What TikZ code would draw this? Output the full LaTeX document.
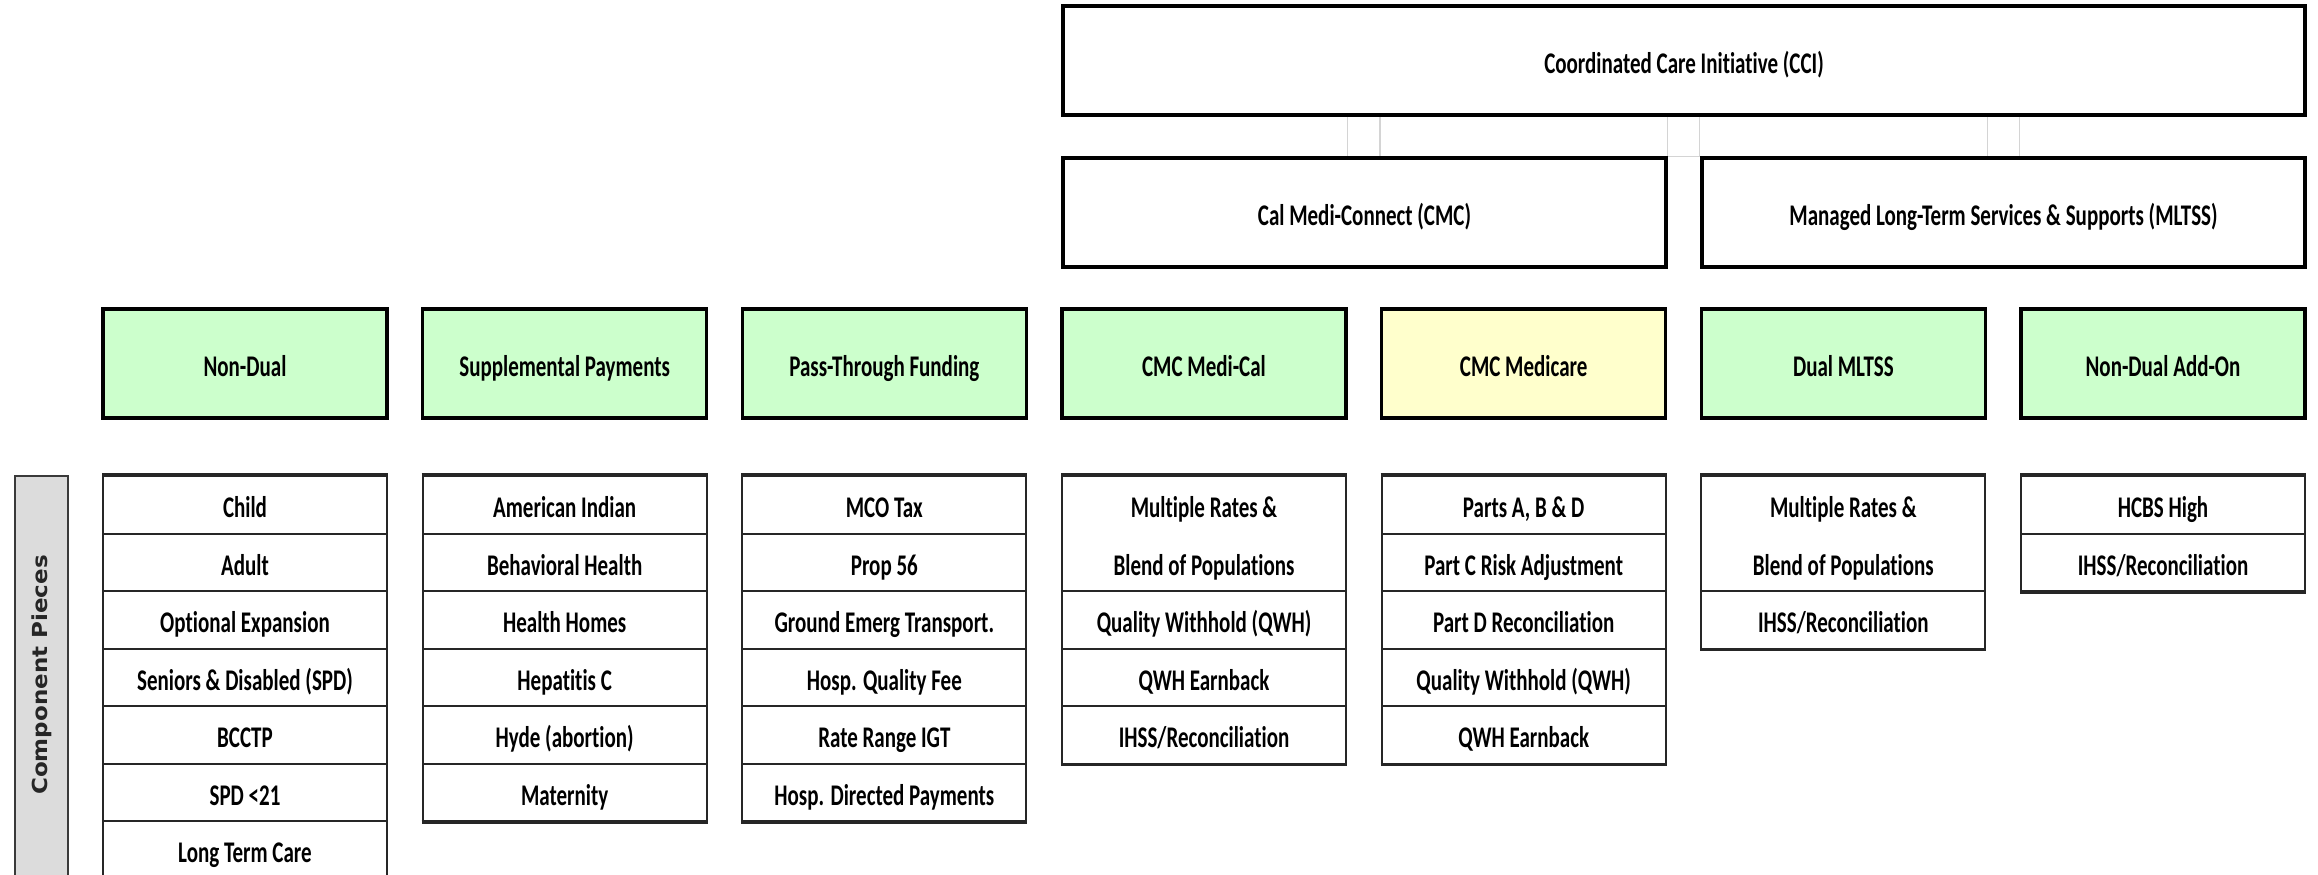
\documentclass[tikz,border=0pt]{standalone}
\usepackage{fontspec}
\newfontfamily\calfont[FakeStretch=0.7, Ligatures={NoCommon}]{Carlito}
\newfontfamily\dvfont{DejaVu Sans}
\usetikzlibrary{calc}
\definecolor{hdrgreen}{HTML}{CCFFCC}
\definecolor{hdryellow}{HTML}{FFFFCC}
\definecolor{gridgray}{HTML}{D4D4D4}
\definecolor{sidegray}{HTML}{DCDCDC}
\definecolor{sideline}{HTML}{3A3A3A}
\begin{document}
\begin{tikzpicture}[x=1pt,y=-1pt,
  lbl/.style={font=\calfont\bfseries\fontsize{30}{36}\selectfont, text height=26pt, text depth=0pt, inner sep=0pt},
  bigbox/.style={lbl, draw=black, line width=3.5pt, fill=white},
  hdr/.style={bigbox, fill=hdrgreen, minimum width=284pt, minimum height=109pt},
  cellbox/.style={lbl, draw=black!85, line width=2pt, fill=white, minimum width=284pt, minimum height=57.5pt},
  coledge/.style={draw=black!85, line width=3.2pt},
  gridln/.style={draw=gridgray, line width=1.2pt},
  sidebar/.style={draw=sideline, line width=1.5pt, fill=sidegray, minimum width=53pt, minimum height=424pt, inner sep=0pt},
  sidetext/.style={rotate=90, inner sep=0pt, font=\dvfont\bfseries\fontsize{23}{27}\selectfont, text=black!85},
]
\useasboundingbox (0,0) rectangle (2318,875);
\begin{scope}
\clip (0,0) rectangle (2318,875);

% header row
\node[hdr] (h1) at (245,363.5) {Non-Dual};
\node[hdr] (h2) at (564.67,363.5) {Supplemental Payments};
\node[hdr] (h3) at (884.33,363.5) {Pass-Through Funding};
\node[hdr] (h4) at (1204,363.5) {CMC Medi-Cal};
\node[hdr, fill=hdryellow] (h5) at (1523.67,363.5) {CMC Medicare};
\node[hdr] (h6) at (1843.33,363.5) {Dual MLTSS};
\node[hdr] (h7) at (2163,363.5) {Non-Dual Add-On};

% top boxes
\node[bigbox, minimum width=1242pt, minimum height=109pt] (cci) at (1684,60.5) {Coordinated Care Initiative (CCI)};
\node[bigbox, minimum width=603pt, minimum height=109pt] (cmc) at (1364.5,212.5) {Cal Medi-Connect (CMC)};
\node[bigbox, minimum width=603pt, minimum height=109pt] (mltss) at (2003.5,212.5) {Managed Long-Term Services \& Supports (MLTSS)};

% light grid lines in the gaps
\draw[gridln] (h4.east |- cci.south) -- (h4.east |- cmc.north);
\draw[gridln] (h5.west |- cci.south) -- (h5.west |- cmc.north);
\draw[gridln] (h5.east |- cci.south) -- (h5.east |- cmc.north);
\draw[gridln] (h6.west |- cci.south) -- (h6.west |- cmc.north);
\draw[gridln] (h6.east |- cci.south) -- (h6.east |- cmc.north);
\draw[gridln] (h7.west |- cci.south) -- (h7.west |- cmc.north);
\draw[gridln] (cmc.north east) -- (mltss.north west);

% side bar
\node[sidebar] (side) at (41.5,688) {};
\node[sidetext] (sidelbl) at (41.5,675) {\scalebox{1}[0.9]{Component Pieces}};

% column 1
\foreach \t [count=\j from 0] in {Child, Adult, Optional Expansion, Seniors \& Disabled (SPD), BCCTP, SPD <21, Long Term Care}
  \node[cellbox] (nd\j) at (245,{504.75+\j*57.5}) {\t};
% column 2
\foreach \t [count=\j from 0] in {American Indian, Behavioral Health, Health Homes, Hepatitis C, Hyde (abortion), Maternity}
  \node[cellbox] (sp\j) at (564.67,{504.75+\j*57.5}) {\t};
% column 3
\foreach \t [count=\j from 0] in {MCO Tax, Prop 56, Ground Emerg Transport., Hosp. Quality Fee, Rate Range IGT, Hosp. Directed Payments}
  \node[cellbox] (pt\j) at (884.33,{504.75+\j*57.5}) {\t};
% column 4
\node[cellbox, minimum height=115pt] (mc0) at (1204,533.5) {};
\node[lbl] (mc0a) at (1204,504.75) {Multiple Rates \&};
\node[lbl] (mc0b) at (1204,562.25) {Blend of Populations};
\foreach \t [count=\j from 2] in {Quality Withhold (QWH), QWH Earnback, IHSS/Reconciliation}
  \node[cellbox] (mc\j) at (1204,{504.75+\j*57.5}) {\t};
% column 5
\foreach \t [count=\j from 0] in {{Parts A, B \& D}, Part C Risk Adjustment, Part D Reconciliation, Quality Withhold (QWH), QWH Earnback}
  \node[cellbox] (mr\j) at (1523.67,{504.75+\j*57.5}) {\t};
% column 6
\node[cellbox, minimum height=115pt] (dm0) at (1843.33,533.5) {};
\node[lbl] (dm0a) at (1843.33,504.75) {Multiple Rates \&};
\node[lbl] (dm0b) at (1843.33,562.25) {Blend of Populations};
\node[cellbox] (dm2) at (1843.33,619.75) {IHSS/Reconciliation};
% column 7
\node[cellbox] (na0) at (2163,504.75) {HCBS High};
\node[cellbox] (na1) at (2163,562.25) {IHSS/Reconciliation};

% heavier top and bottom edges of the columns
\draw[coledge] (nd0.north west) -- (nd0.north east);
\draw[coledge] (sp0.north west) -- (sp0.north east);
\draw[coledge] (pt0.north west) -- (pt0.north east);
\draw[coledge] (mc0.north west) -- (mc0.north east);
\draw[coledge] (mr0.north west) -- (mr0.north east);
\draw[coledge] (dm0.north west) -- (dm0.north east);
\draw[coledge] (na0.north west) -- (na0.north east);
\draw[coledge] (sp5.south west) -- (sp5.south east);
\draw[coledge] (pt5.south west) -- (pt5.south east);
\draw[coledge] (mc4.south west) -- (mc4.south east);
\draw[coledge] (mr4.south west) -- (mr4.south east);
\draw[coledge] (dm2.south west) -- (dm2.south east);
\draw[coledge] (na1.south west) -- (na1.south east);
\end{scope}
\end{tikzpicture}
\end{document}
